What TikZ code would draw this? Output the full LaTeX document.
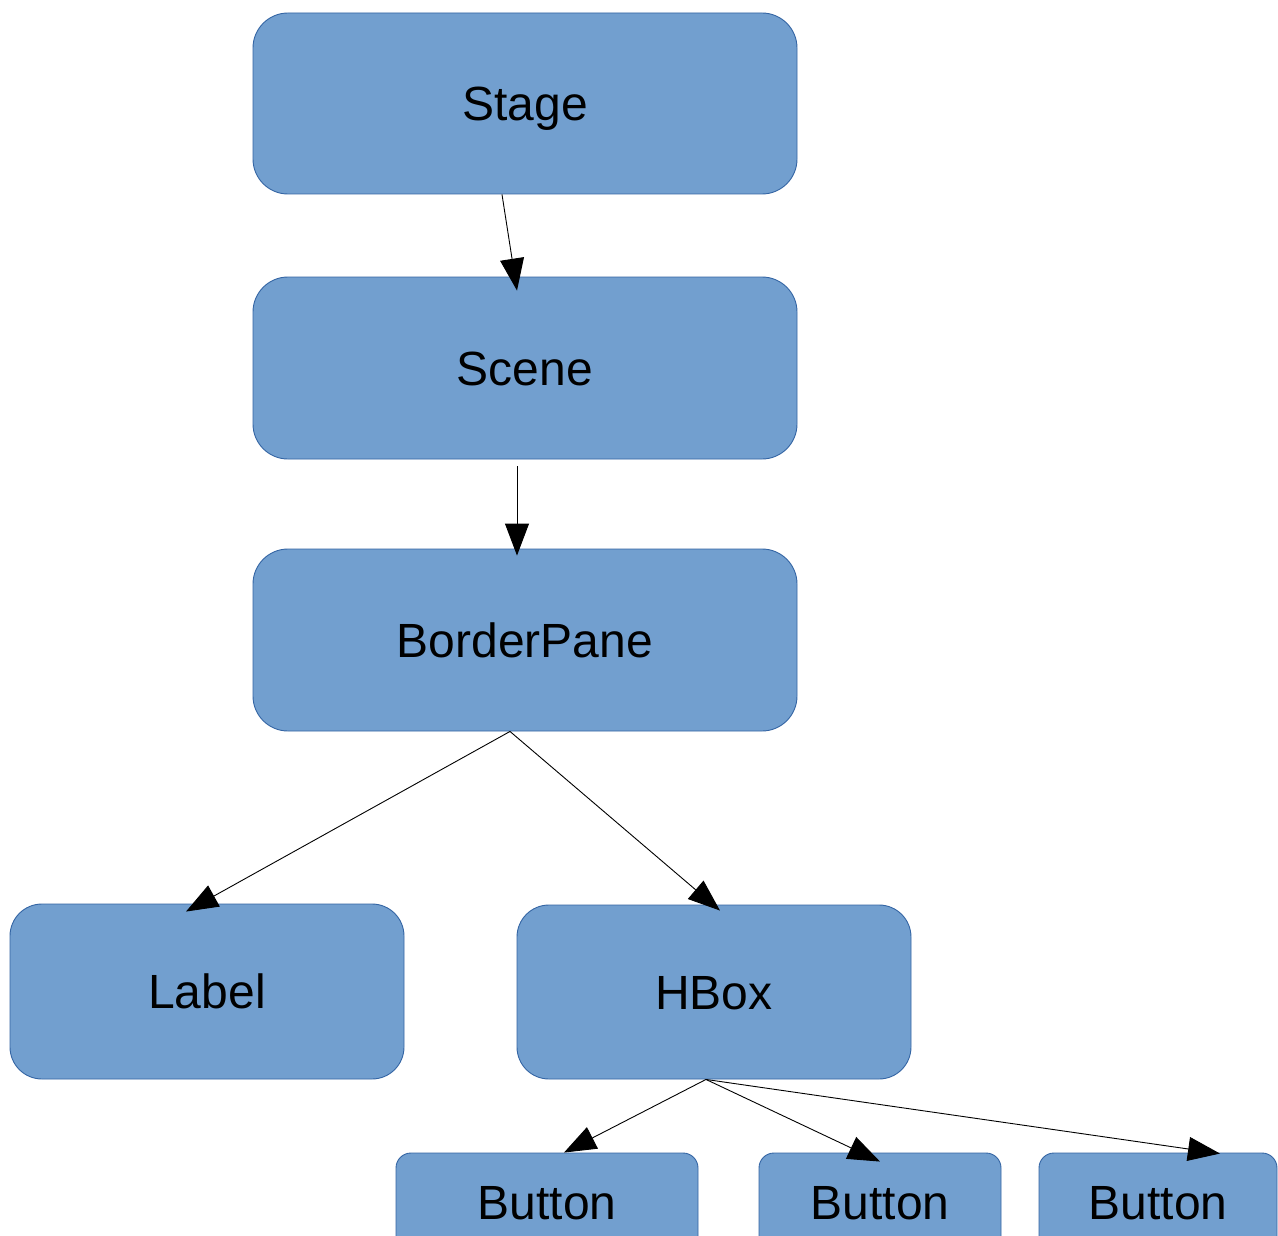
\documentclass[tikz,border=0pt]{standalone}
\usepackage{fontspec}
\setmainfont{Liberation Sans}
\usetikzlibrary{arrows.meta}
\definecolor{boxfill}{HTML}{729FCF}
\definecolor{boxline}{HTML}{3465A4}
\begin{document}
\begin{tikzpicture}[x=1pt,y=-1pt,
  box/.style={draw=boxline, line width=0.9pt, fill=boxfill, rounded corners=35pt,
    inner sep=0pt, text height=34pt, text depth=0pt,
    font=\fontsize{48}{57}\selectfont},
  btnbox/.style={draw=boxline, line width=0.9pt, fill=boxfill, rounded corners=15pt,
    inner sep=0pt, text height=66pt, text depth=120pt, anchor=base,
    font=\fontsize{48}{57}\selectfont},
  conn/.style={line width=0.9pt, -{Triangle[length=32pt,width=24pt]}}]
\useasboundingbox (0,0) rectangle (1278,1236);
\clip (0,0) rectangle (1278,1236);
\fill[white] (0,0) rectangle (1278,1236);

\node[box, minimum width=544pt, minimum height=181pt] (stage) at (525,103.5) {Stage};
\node[box, minimum width=544pt, minimum height=182pt] (scene) at (525,368) {Scene};
\node[box, minimum width=544pt, minimum height=182pt] (bpane) at (525,640) {BorderPane};
\node[box, minimum width=394pt, minimum height=175pt, rounded corners=32pt] (label) at (207,991.5) {Label};
\node[box, minimum width=394pt, minimum height=174pt, rounded corners=32pt] (hbox) at (714,992) {HBox};
\node[btnbox, minimum width=302pt] (btna) at (547,1219) {Button};
\node[btnbox, minimum width=242pt] (btnb) at (880,1219) {Button};
\node[btnbox, minimum width=238pt] (btnc) at (1158,1219) {Button};

\draw[conn] ([xshift=-23pt]stage.south) -- ([xshift=-8pt,yshift=-14pt]scene.north);
\draw[conn] ([xshift=-8pt,yshift=-7pt]scene.south) -- ([xshift=-8pt,yshift=-7pt]bpane.north);
\draw[conn] ([xshift=-15pt]bpane.south) -- ([xshift=-21pt,yshift=-8pt]label.north);
\draw[conn] ([xshift=-15pt]bpane.south) -- ([xshift=6pt,yshift=-6pt]hbox.north);
\draw[conn] ([xshift=-8pt]hbox.south) -- ([xshift=17pt,yshift=0pt]btna.north);
\draw[conn] ([xshift=-8pt]hbox.south) -- ([xshift=0pt,yshift=-9pt]btnb.north);
\draw[conn] ([xshift=-8pt]hbox.south) -- ([xshift=62pt,yshift=-1pt]btnc.north);
\end{tikzpicture}
\end{document}
